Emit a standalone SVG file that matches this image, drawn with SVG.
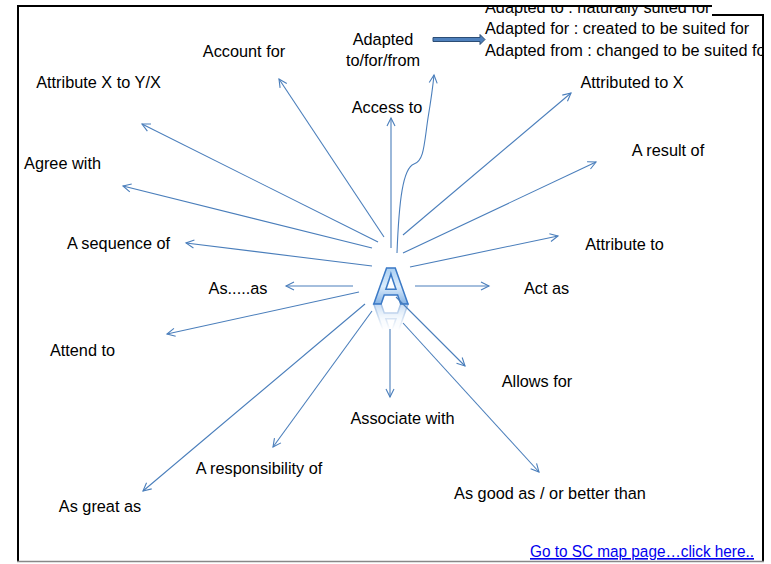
<svg xmlns="http://www.w3.org/2000/svg" width="771" height="564" viewBox="0 0 771 564">
<style>
.t{font-family:"Liberation Sans",Arial,sans-serif;font-size:16.3px;fill:#000;text-anchor:middle}
.ts{font-family:"Liberation Sans",Arial,sans-serif;font-size:16.3px;fill:#000}
.c{stroke:#4a7ebb;stroke-width:1.1;fill:none;marker-end:url(#ah)}
.link{font-family:"Liberation Sans",Arial,sans-serif;font-size:16.3px;fill:#0000ee;text-decoration:underline}
</style>
<defs>
<marker id="ah" markerUnits="userSpaceOnUse" markerWidth="12" markerHeight="12" refX="9" refY="5" orient="auto">
<path d="M1,1 L9,5 L1,9" fill="none" stroke="#4a7ebb" stroke-width="1.1"/>
</marker>
<linearGradient id="ag" x1="0" y1="0" x2="0" y2="1">
<stop offset="0" stop-color="#8fc0ee"/>
<stop offset="0.5" stop-color="#dcecfb"/>
<stop offset="1" stop-color="#4f8fd6"/>
</linearGradient>
<linearGradient id="fg" gradientUnits="userSpaceOnUse" x1="0" y1="303" x2="0" y2="330">
<stop offset="0" stop-color="#fff" stop-opacity="0.5"/>
<stop offset="1" stop-color="#fff" stop-opacity="0"/>
</linearGradient>
<mask id="fade" maskUnits="userSpaceOnUse" x="350" y="300" width="90" height="40">
<rect x="350" y="303" width="90" height="30" fill="url(#fg)"/>
</mask>
<clipPath id="tb"><rect x="470" y="6" width="293" height="60"/></clipPath>
</defs>
<rect width="771" height="564" fill="#fff"/>

<g id="frame">
<line x1="17" y1="6" x2="712" y2="6" stroke="#000" stroke-width="2"/>
<line x1="712" y1="15" x2="764" y2="15" stroke="#000" stroke-width="2"/>
<line x1="18" y1="6" x2="18" y2="561" stroke="#000" stroke-width="2"/>
<line x1="763" y1="15" x2="763" y2="561" stroke="#000" stroke-width="2"/>
<line x1="17" y1="561.5" x2="764" y2="561.5" stroke="#888" stroke-width="1.5"/>
</g>

<g id="center-A">
<text id="Aglyph" x="391" y="304" font-family="'Liberation Sans',Arial,sans-serif" font-weight="bold" font-size="51" text-anchor="middle" fill="url(#ag)" stroke="#3c7ac6" stroke-width="1.5">A</text>
<g mask="url(#fade)">
<use href="#Aglyph" transform="translate(0,608) scale(1,-1)"/>
</g>
</g>

<g id="connectors">
<line class="c" x1="384" y1="237" x2="279" y2="79"/>
<line class="c" x1="378" y1="242" x2="142" y2="124"/>
<line class="c" x1="372" y1="248" x2="123" y2="186"/>
<line class="c" x1="372" y1="266" x2="186" y2="243"/>
<line class="c" x1="353" y1="286" x2="286" y2="286"/>
<line class="c" x1="359" y1="292" x2="167" y2="334"/>
<line class="c" x1="365" y1="304" x2="143" y2="491"/>
<line class="c" x1="372" y1="311" x2="273" y2="447"/>
<line class="c" x1="390" y1="329" x2="390" y2="397"/>
<line class="c" x1="396" y1="297" x2="465" y2="366"/>
<line class="c" x1="403" y1="323" x2="539" y2="472"/>
<line class="c" x1="415" y1="286" x2="489" y2="286"/>
<line class="c" x1="410" y1="267" x2="558" y2="236"/>
<line class="c" x1="403" y1="253" x2="596" y2="162"/>
<line class="c" x1="403" y1="235" x2="571" y2="93"/>
<line class="c" x1="391" y1="248" x2="391" y2="118"/>
<path class="c" d="M397,253 C399,200 403,168 414,164 C424,161 424,145 428,118 C431,100 433,85 434,75"/>
</g>

<g id="block-arrow">
<path d="M433,37.5 L480,37.5 L480,34.5 L485,39.5 L480,44.5 L480,41.5 L433,41.5 Z" fill="#4f81bd" stroke="#2c4d75" stroke-width="1"/>
</g>

<g id="labels">
<text class="t" x="244" y="57">Account for</text>
<text class="t" x="383" y="45">Adapted</text>
<text class="t" x="383" y="66">to/for/from</text>
<text class="t" x="98.5" y="88">Attribute X to Y/X</text>
<text class="t" x="387" y="113">Access to</text>
<text class="t" x="632" y="88">Attributed to X</text>
<text class="t" x="668" y="156">A result of</text>
<text class="t" x="62.5" y="169">Agree with</text>
<text class="t" x="118.5" y="249">A sequence of</text>
<text class="t" x="624.5" y="250">Attribute to</text>
<text class="t" x="238" y="294">As.....as</text>
<text class="t" x="546.5" y="294">Act as</text>
<text class="t" x="82.5" y="356">Attend to</text>
<text class="t" x="537" y="387">Allows for</text>
<text class="t" x="402.5" y="424">Associate with</text>
<text class="t" x="259" y="474">A responsibility of</text>
<text class="t" x="100" y="512">As great as</text>
<text class="t" x="550" y="499">As good as / or better than</text>
</g>

<g id="definitions" clip-path="url(#tb)">
<text class="ts" x="485" y="12.5">Adapted to : naturally suited for</text>
<text class="ts" x="485" y="34">Adapted for : created to be suited for</text>
<text class="ts" x="485" y="56">Adapted from : changed to be suited for</text>
</g>

<g id="link">
<text class="link" x="530" y="557" textLength="224" lengthAdjust="spacingAndGlyphs">Go to SC map page…click here..</text>
</g>
</svg>
